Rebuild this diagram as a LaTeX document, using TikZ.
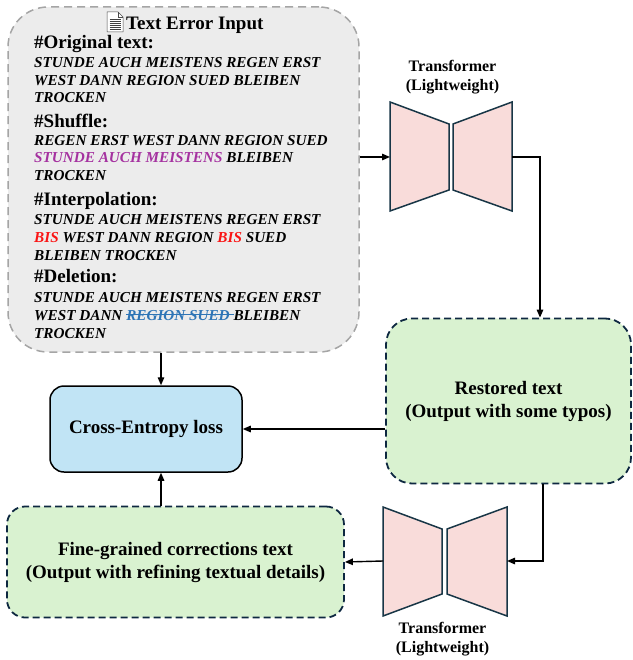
\documentclass[tikz,border=0pt]{standalone}
\usepackage{fontspec}
\setmainfont{Liberation Serif}
\usetikzlibrary{arrows.meta,calc}
\definecolor{grayf}{RGB}{236,236,236}
\definecolor{grayb}{RGB}{165,165,165}
\definecolor{greenf}{RGB}{217,242,208}
\definecolor{navyb}{RGB}{14,40,65}
\definecolor{bluef}{RGB}{193,228,245}
\definecolor{pinkf}{RGB}{249,220,218}
\definecolor{trapb}{RGB}{24,54,70}
\definecolor{shufc}{RGB}{165,50,160}
\definecolor{interc}{RGB}{250,20,20}
\definecolor{delc}{RGB}{46,117,182}
\newcommand\mystrk[1]{\setbox0=\hbox{#1}\rlap{\rule[0.32em]{\wd0}{1pt}}\box0}
\begin{document}
\begin{tikzpicture}[x=1pt,y=-1pt,
  inbox/.style={draw=grayb, fill=grayf, dash pattern=on 8pt off 5pt, line width=1.5pt, rounded corners=40pt, minimum width=351pt, minimum height=345pt, inner sep=0pt},
  greenbox/.style={draw=navyb, fill=greenf, dash pattern=on 7pt off 4pt, line width=1.8pt, align=center, inner sep=0pt, font=\bfseries\fontsize{19}{23}\selectfont},
  cebox/.style={draw=black, fill=bluef, line width=1.5pt, rounded corners=14pt, minimum width=192pt, minimum height=86pt, inner sep=0pt, font=\bfseries\fontsize{19}{23}\selectfont},
  hdr/.style={anchor=base west, inner sep=0pt, font=\bfseries\fontsize{19}{21}\selectfont},
  bodyl/.style={anchor=base west, inner sep=0pt, font=\bfseries\itshape\fontsize{15.2}{18}\selectfont},
  lbl/.style={anchor=base, inner sep=0pt, font=\bfseries\fontsize{16}{19}\selectfont},
  trap/.style={fill=pinkf, draw=trapb, line width=1.5pt, line join=miter},
  conn/.style={line width=1.4pt, draw=black},
  arr/.style={conn, -{Triangle[length=8pt,width=6.5pt]}}
]
\useasboundingbox (0,0) rectangle (632,660);
% input box
\node[inbox] (input) at (183.5,179.5) {};
% icon
\filldraw[fill=white, draw=black!70, line width=0.5pt] (107,12) -- (118,12) -- (123,17) -- (123,32) -- (107,32) -- cycle;
\draw[black!70, line width=0.5pt] (118,12) -- (118,17) -- (123,17);
\foreach \yy in {19,21,23,25,27,29} \draw[black!75, line width=0.6pt] (109.5,\yy) -- (120.5,\yy);
\node[hdr] (title) at (126,30) {Text Error Input};
\node[hdr] (h1) at (34,49) {\#Original text:};
\node[bodyl] (o1) at (34,68) {STUNDE AUCH MEISTENS REGEN ERST};
\node[bodyl] (o2) at (34,86) {WEST DANN REGION SUED BLEIBEN};
\node[bodyl] (o3) at (34,103) {TROCKEN};
\node[hdr] (h2) at (34,128) {\#Shuffle:};
\node[bodyl] (s1) at (34,146) {REGEN ERST WEST DANN REGION SUED};
\node[bodyl] (s2) at (34,163) {{\color{shufc}STUNDE AUCH MEISTENS} BLEIBEN};
\node[bodyl] (s3) at (34,181) {TROCKEN};
\node[hdr] (h3) at (34,206) {\#Interpolation:};
\node[bodyl] (i1) at (34,224) {STUNDE AUCH MEISTENS REGEN ERST};
\node[bodyl] (i2) at (34,242) {{\color{interc}BIS} WEST DANN REGION {\color{interc}BIS} SUED};
\node[bodyl] (i3) at (34,260) {BLEIBEN TROCKEN};
\node[hdr] (h4) at (34,282) {\#Deletion:};
\node[bodyl] (d1) at (34,302) {STUNDE AUCH MEISTENS REGEN ERST};
\node[bodyl] (d2) at (34,320) {WEST DANN {\color{delc}\mystrk{REGION SUED }}BLEIBEN};
\node[bodyl] (d3) at (34,338) {TROCKEN};
% transformer 1
\node[lbl] (t1la) at (452.5,72) {Transformer};
\node[lbl] (t1lb) at (452.5,91) {(Lightweight)};
\draw[trap] (390,102) -- (449,124) -- (449,190) -- (390,211) -- cycle;
\draw[trap] (453,124) -- (512,102) -- (512,211) -- (453,190) -- cycle;
\coordinate (t1in) at (390,157);
\coordinate (t1out) at (512,157);
\coordinate (t1turn) at (540,157);
% transformer 2
\draw[trap] (383,507) -- (442,529) -- (442,594) -- (383,616) -- cycle;
\draw[trap] (447,529) -- (507,507) -- (507,616) -- (447,594) -- cycle;
\node[lbl] (t2la) at (442.5,633) {Transformer};
\node[lbl] (t2lb) at (442.5,652) {(Lightweight)};
\coordinate (t2in) at (507,561);
\coordinate (t2out) at (383,561);
\coordinate (t2turn) at (543,561);
% boxes
\node[greenbox, rounded corners=26pt, minimum width=245pt, minimum height=165pt] (restored) at (508.5,401) {Restored text\\(Output with some typos)};
\node[cebox] (ce) at (146,429) {Cross-Entropy loss};
\node[greenbox, rounded corners=18pt, minimum width=337pt, minimum height=111pt] (fine) at (175.5,562) {Fine-grained corrections text\\(Output with refining textual details)};
\coordinate (cx) at (161,0);
% connectors
\draw[arr] (input.east |- t1in) -- (t1in);
\draw[arr] (t1out) -- (t1turn) -- (t1turn |- restored.north);
\draw[arr] (restored.west |- ce.east) -- (ce.east);
\draw[arr] (input.south -| cx) -- (ce.north -| cx);
\draw[arr] (fine.north -| cx) -- (ce.south -| cx);
\draw[arr] (t2turn |- restored.south) -- (t2turn) -- (t2in);
\draw[arr] (t2out) -- (fine.east);
\end{tikzpicture}
\end{document}
